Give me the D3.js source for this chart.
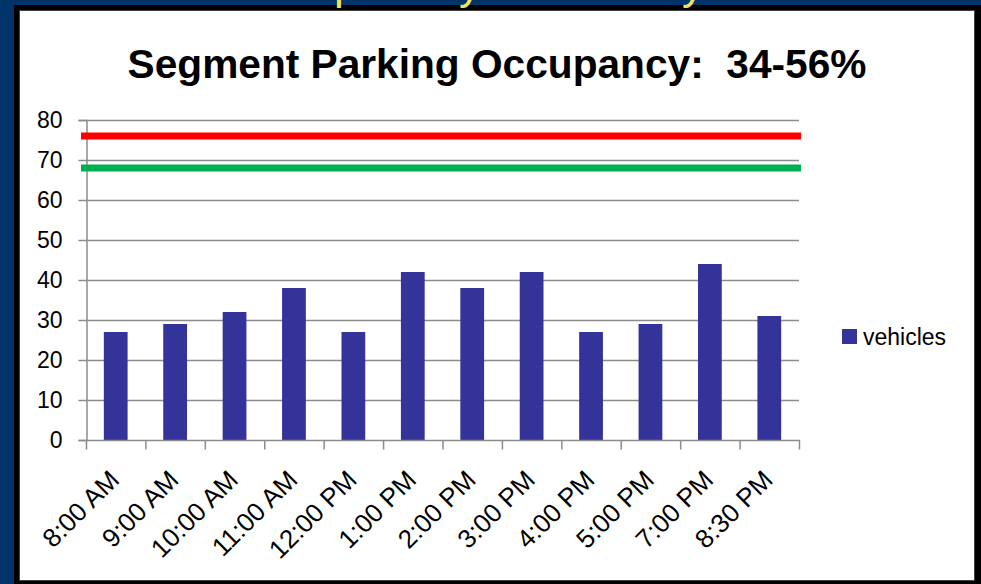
<!DOCTYPE html>
<html>
<head>
<meta charset="utf-8">
<script src="https://cdn.jsdelivr.net/npm/d3@7"></script>
<style>
  html, body { margin: 0; padding: 0; background: #003468; }
  svg { display: block; }
</style>
</head>
<body>
<svg id="chart" width="981" height="584"></svg>
<script>
// Parking counts by time of day
const times = ["8:00 AM", "9:00 AM", "10:00 AM", "11:00 AM", "12:00 PM", "1:00 PM",
               "2:00 PM", "3:00 PM", "4:00 PM", "5:00 PM", "7:00 PM", "8:30 PM"];
const vehicles = [27, 29, 32, 38, 27, 42, 38, 42, 27, 29, 44, 31];
const yTicks = [0, 10, 20, 30, 40, 50, 60, 70, 80];
// Reference levels drawn across the plot
const capacityLine = 76;
const targetLine = 68;
const seriesName = "vehicles";
const chartTitle = "Segment Parking Occupancy:  34-56%";

const svg = d3.select("#chart");
const W = 981, H = 584;
const FONT = "Liberation Sans, Arial, sans-serif";

// slide background and shadow frame
svg.append("rect").attr("width", W).attr("height", H).attr("fill", "#003468");
svg.append("rect").attr("x", 14).attr("y", 5).attr("width", 967).attr("height", 579).attr("fill", "#000");

// descenders of the slide heading that sits above the panel
const heading = svg.append("g").attr("fill", "#f2e35a")
  .attr("font-family", FONT).attr("font-size", 44);
heading.append("text").attr("x", 334).attr("y", -1).text("p");
heading.append("text").attr("x", 459).attr("y", -1).text("y");
heading.append("text").attr("x", 682).attr("y", -1).text("y");

// white chart panel
svg.append("rect").attr("x", 19.5).attr("y", 10.5).attr("width", 955).attr("height", 570)
  .attr("fill", "#fff").attr("stroke", "#444").attr("stroke-width", 1);

// title, sized to its space
const title = svg.append("text")
  .attr("x", 497).attr("y", 78)
  .attr("text-anchor", "middle")
  .attr("font-family", FONT)
  .attr("font-weight", "bold")
  .attr("font-size", 34)
  .attr("fill", "#000")
  .style("white-space", "pre")
  .text(chartTitle);
const tw = title.node().getComputedTextLength();
title.attr("font-size", 34 * 739 / tw);

const plot = { left: 86, right: 799, top: 120, bottom: 440 };

const x = d3.scaleBand().domain(times).range([plot.left, plot.right]).paddingInner(0.6).paddingOuter(0.3);
const xCat = d3.scaleBand().domain(times).range([plot.left, plot.right]);
const y = d3.scaleLinear().domain([0, 80]).range([plot.bottom, plot.top]);

// gridlines
svg.append("g").selectAll("line").data(yTicks.filter(d => d > 0)).join("line")
  .attr("x1", plot.left).attr("x2", plot.right)
  .attr("y1", d => Math.round(y(d)) + 0.5).attr("y2", d => Math.round(y(d)) + 0.5)
  .attr("stroke", "#8c8c8c").attr("stroke-width", 1.5);

// y axis
const yAxis = svg.append("g").attr("transform", `translate(${plot.left + 0.5},0)`)
  .call(d3.axisLeft(y).tickValues(yTicks).tickSize(8).tickPadding(16));
yAxis.select(".domain").attr("stroke", "#8c8c8c").attr("stroke-width", 1.5);
yAxis.selectAll(".tick line").attr("stroke", "#8c8c8c").attr("stroke-width", 1.5);
yAxis.selectAll(".tick text").attr("font-family", FONT)
  .attr("font-size", 23).attr("fill", "#000");

// bars
svg.append("g").selectAll("rect").data(vehicles).join("rect")
  .attr("x", (d, i) => x(times[i]))
  .attr("width", x.bandwidth())
  .attr("y", d => y(d))
  .attr("height", d => y(0) - y(d))
  .attr("fill", "#333399");

// x axis with ticks on category boundaries
const xAxisG = svg.append("g").attr("transform", `translate(0,${plot.bottom + 0.5})`);
xAxisG.append("line").attr("x1", plot.left).attr("x2", plot.right + 1)
  .attr("stroke", "#8c8c8c").attr("stroke-width", 1.5);
const boundaries = times.map(t => xCat(t)).concat([plot.right]);
xAxisG.selectAll("line.tk").data(boundaries).join("line").attr("class", "tk")
  .attr("x1", d => d + 0.5).attr("x2", d => d + 0.5).attr("y1", 0).attr("y2", 9)
  .attr("stroke", "#8c8c8c").attr("stroke-width", 1.5);
xAxisG.selectAll("text").data(times).join("text")
  .attr("transform", d => `translate(${xCat(d) + xCat.bandwidth() / 2 + 5},${41}) rotate(-45)`)
  .attr("text-anchor", "end")
  .attr("font-family", FONT)
  .attr("font-size", 26)
  .attr("fill", "#000")
  .text(d => d);

// reference lines
const refX1 = plot.left - 5, refX2 = plot.right + 2;
svg.append("line").attr("x1", refX1).attr("x2", refX2)
  .attr("y1", y(capacityLine)).attr("y2", y(capacityLine))
  .attr("stroke", "#ff0000").attr("stroke-width", 7);
svg.append("line").attr("x1", refX1).attr("x2", refX2)
  .attr("y1", y(targetLine)).attr("y2", y(targetLine))
  .attr("stroke", "#00b050").attr("stroke-width", 7);

// legend
const legend = svg.append("g").attr("transform", "translate(842,329)");
legend.append("rect").attr("width", 15).attr("height", 15).attr("fill", "#333399");
legend.append("text").attr("x", 21).attr("y", 16)
  .attr("font-family", FONT).attr("font-size", 23)
  .attr("fill", "#000").text(seriesName);
</script>
</body>
</html>
